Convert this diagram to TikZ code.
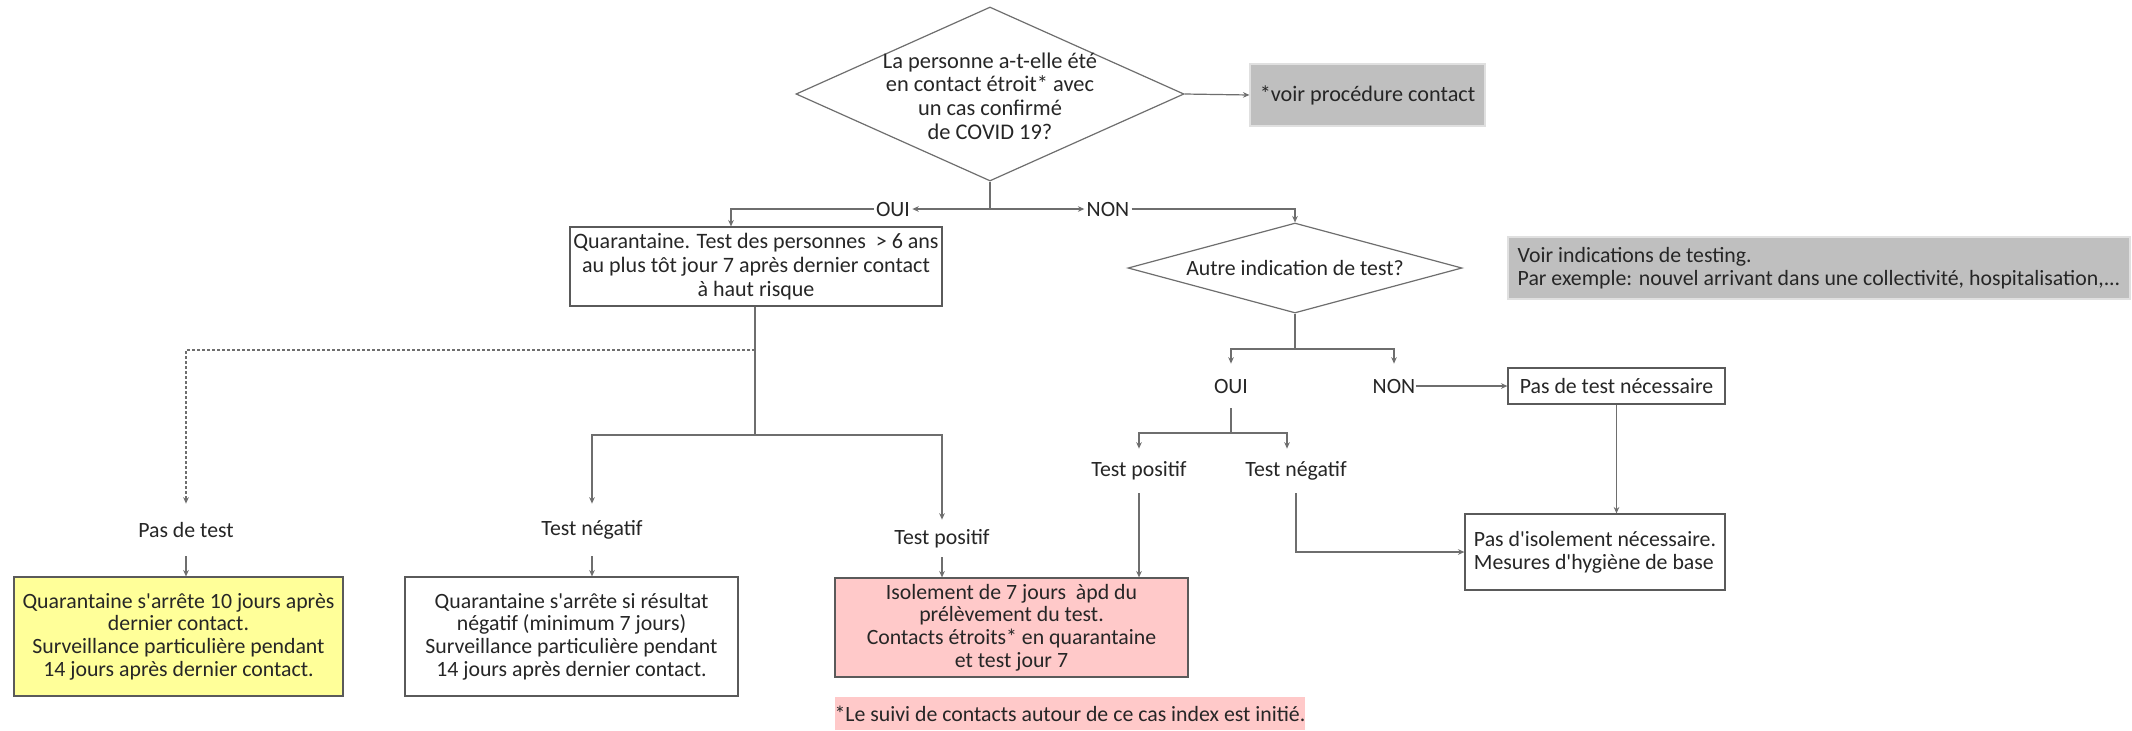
\documentclass[tikz,border=0pt]{standalone}
\usepackage{fontspec}
\setmainfont{Carlito}[Ligatures=TeXOff]
\usetikzlibrary{shapes.geometric,arrows.meta}
\definecolor{linegray}{HTML}{6E6E6E}
\definecolor{boxgray}{HTML}{BFBFBF}
\definecolor{pinkfill}{HTML}{FFC9C9}
\definecolor{yellowfill}{HTML}{FFFF99}
\definecolor{bordergray}{HTML}{5A5A5A}
\definecolor{txtcol}{HTML}{262626}
\begin{document}
\begin{tikzpicture}[x=0.5pt,y=-0.5pt,
  font=\fontsize{10.9}{11.35}\selectfont,
  every node/.style={text=txtcol},
  box/.style={draw=bordergray, line width=0.6pt, inner sep=0pt, align=center},
  graybox/.style={fill=boxgray, draw=black!12, line width=0.6pt, inner sep=0pt},
  diam/.style={diamond, draw=linegray, line width=0.6pt, inner sep=0pt},
  lbl/.style={inner sep=1pt},
  lblv/.style={inner sep=0pt, minimum height=26pt},
  lblr/.style={inner sep=0pt, minimum height=22pt},
  conn/.style={draw=linegray, line width=0.6pt},
  arr/.style={conn, -{Stealth[length=3.2pt,width=2.8pt]}},
]
\fill[white] (0,0) rectangle (2132,730);
\useasboundingbox (0,0) rectangle (2132,730);

% top decision
\node[diam, minimum width=194pt, minimum height=87pt] (d1) at (990,94) {};
\node[align=center, inner sep=0pt, font=\fontsize{11.2}{11.8}\selectfont] (d1t) at (990,96) {La personne a-t-elle été\\en contact étroit* avec\\un cas confirmé\\de COVID 19?};
\node[graybox, minimum width=117.5pt, minimum height=31pt, font=\fontsize{11.1}{12}\selectfont] (voir) at (1367.5,95) {*voir procédure contact};

\node[lbl] (oui1) at (893,209) {OUI};
\node[lbl] (non1) at (1108,209) {NON};

% left branch
\node[box, minimum width=186pt, minimum height=39.5pt, font=\fontsize{11}{11.9}\selectfont] (qbox) at (756,266.5) {Quarantaine. Test des personnes \ > 6 ans\\au plus tôt jour 7 après dernier contact\\à haut risque};

\node[lblv] (pdt) at (186,530) {Pas de test};
\node[lblv] (tn1) at (592,530) {Test négatif};
\node[inner sep=0pt, minimum height=18.5pt] (tp1) at (942,538.5) {Test positif};

\node[box, fill=yellowfill, minimum width=164.5pt, minimum height=59.5pt] (yellow) at (178.5,636.5) {Quarantaine s'arrête 10 jours après\\dernier contact.\\Surveillance particulière pendant\\14 jours après dernier contact.};
\node[box, minimum width=166.5pt, minimum height=59.5pt] (white2) at (571.5,636.5) {Quarantaine s'arrête si résultat\\négatif (minimum 7 jours)\\Surveillance particulière pendant\\14 jours après dernier contact.};
\node[box, fill=pinkfill, minimum width=176.5pt, minimum height=49.5pt] (pink) at (1011.5,627.5) {Isolement de 7 jours \ àpd du\\prélèvement du test.\\Contacts étroits* en quarantaine\\et test jour 7};
\node[fill=pinkfill, inner sep=0pt, minimum width=235pt, minimum height=16.5pt] (foot) at (1070,713.5) {*Le suivi de contacts autour de ce cas index est initié.};

% right branch
\node[diam, minimum width=167pt, minimum height=45pt] (d2) at (1295,268) {};
\node[inner sep=0pt] (d2t) at (1295,268) {Autre indication de test?};
\node[graybox, align=left, minimum width=311pt, minimum height=31pt] (gray2) at (1819,268) {Voir indications de testing.\\Par exemple: nouvel arrivant dans une collectivité, hospitalisation,...};

\node[lblr] (oui2) at (1231,386) {OUI};
\node[lblr] (non2) at (1394,386) {NON};
\node[box, minimum width=108.5pt, minimum height=18pt] (pdtn) at (1616.5,386) {Pas de test nécessaire};
\node[lblr] (tp2) at (1139,471) {Test positif};
\node[lblr] (tn2) at (1296,471) {Test négatif};
\node[box, align=left, minimum width=130pt, minimum height=38pt] (pdi) at (1595,552) {Pas d'isolement nécessaire.\\Mesures d'hygiène de base};

% connectors top
\coordinate (j1) at (990,209);
\draw[conn] (d1.south) -- (j1);
\draw[arr] (j1) -- (oui1.east);
\draw[arr] (oui1.west) -| ([xshift=-12.5pt]qbox.north);
\draw[arr] (j1) -- (non1.west);
\draw[arr] (non1.east) -| (d2.north);
\draw[arr] (d1.east) -- (voir.west);

% connectors left
\coordinate (j2) at (755,350);
\coordinate (j3) at (755,435);
\draw[conn] (qbox.south -| j2) -- (j2) -- (j3);
\draw[arr, dash pattern=on 1.5pt off 1pt] (j2) -| (pdt.north);
\draw[arr] (j3) -| (tn1.north);
\draw[arr] (j3) -| (tp1.north);
\draw[arr] (pdt.south) -- (pdt.south |- yellow.north);
\draw[arr] (tn1.south) -- (tn1.south |- white2.north);
\draw[arr] (tp1.south) -- (tp1.south |- pink.north);

% connectors right
\coordinate (j4) at (1295,349);
\draw[conn] (d2.south) -- (j4);
\draw[arr] (j4) -| (oui2.north);
\draw[arr] (j4) -| (non2.north);
\draw[arr] (non2.east) -- (pdtn.west);
\draw[arr] (pdtn.south) -- (pdtn.south |- pdi.north);
\coordinate (j5) at (1231,433);
\draw[conn] (oui2.south) -- (j5);
\draw[arr] (j5) -| (tp2.north);
\draw[arr] (j5) -| ([xshift=-4.5pt]tn2.north);
\draw[arr] (tp2.south) -- (tp2.south |- pink.north);
\draw[arr] (tn2.south) |- (pdi.west);
\end{tikzpicture}
\end{document}
